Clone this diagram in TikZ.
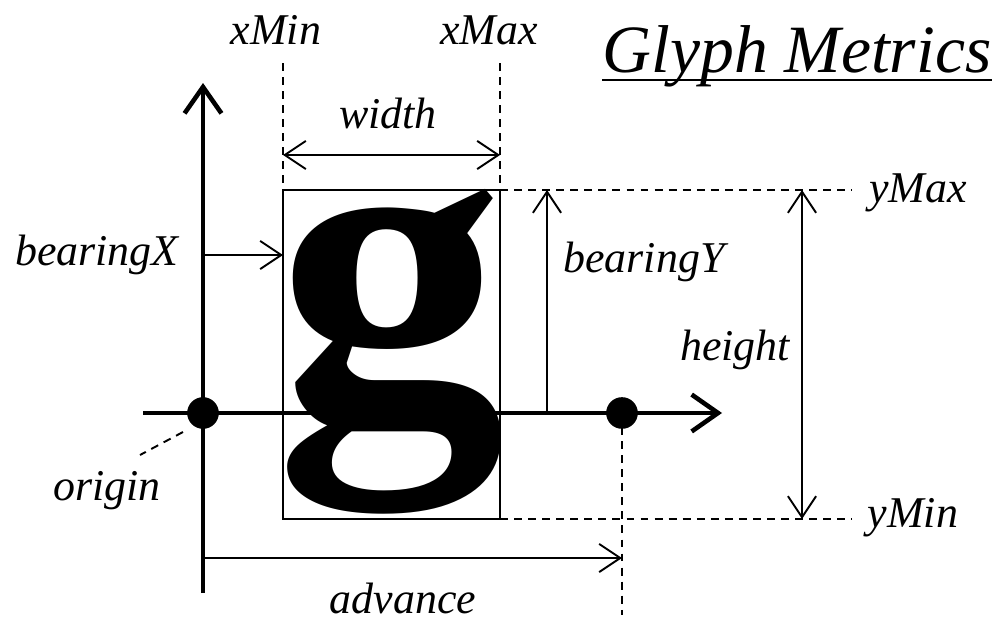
\documentclass[tikz,border=0pt]{standalone}
\usepackage{fontspec}
\setmainfont{Liberation Serif}
\usetikzlibrary{arrows.meta, positioning}
\tikzset{
  guide/.style={line width=1.1pt, dash pattern=on 4.5pt off 3.5pt},
  dimarrow/.style={line width=1.1pt, -{Straight Barb[length=12pt,width=16pt]}},
  dimboth/.style={line width=1.1pt, {Straight Barb[length=12pt,width=16pt]}-{Straight Barb[length=12pt,width=16pt]}},
  axis/.style={line width=2.6pt, -{Straight Barb[length=15pt,width=21pt]}},
  lbl/.style={anchor=base, inner sep=0pt, font=\itshape\fontsize{25pt}{25pt}\selectfont}
}

\begin{document}
\begin{tikzpicture}[x=0.02cm, y=-0.02cm]
\useasboundingbox (0,0) rectangle (995,622);
% key points
\coordinate (origin) at (203,413);
\coordinate (adv) at (622,413);
\coordinate (boxTL) at (283,190);
\coordinate (boxTR) at (500,190);
\coordinate (boxBL) at (283,519);
\coordinate (boxBR) at (500,519);
% glyph and its box
\node[anchor=base, inner sep=0pt, text height=126pt, text depth=60pt,
  font=\bfseries\fontsize{252pt}{252pt}\selectfont] (glyph) at (391,416) {\scalebox{1.04}[1]{g}};
\draw[line width=1.1pt] (boxTL) rectangle (boxBR);
% axes
\coordinate (xaxisL) at (143,413);
\coordinate (xaxisR) at (722,413);
\coordinate (yaxisB) at (203,593);
\coordinate (yaxisT) at (203,83);
\draw[axis] (xaxisL) -- (xaxisR);
\draw[axis] (yaxisB) -- (yaxisT);
\fill (origin) circle (9pt);
\fill (adv) circle (9pt);
% guide lines
\coordinate (xMinTop) at (283,63);
\coordinate (xMaxTop) at (500,63);
\coordinate (yMaxEnd) at (852,190);
\coordinate (yMinEnd) at (852,519);
\coordinate (advBot) at (622,615);
\coordinate (leaderA) at (183,432);
\coordinate (leaderB) at (140,455);
\draw[guide] (xMinTop) -- (boxTL);
\draw[guide] (xMaxTop) -- (boxTR);
\draw[guide] (boxTR) -- (yMaxEnd);
\draw[guide] (boxBR) -- (yMinEnd);
\draw[guide] (adv) -- (advBot);
\draw[guide] (leaderA) -- (leaderB);
% dimensions
\coordinate (wL) at (283,155);
\coordinate (wR) at (500,155);
\coordinate (bxL) at (203,255);
\coordinate (bxR) at (283,255);
\coordinate (byB) at (547,413);
\coordinate (byT) at (547,190);
\coordinate (hT) at (802,190);
\coordinate (hB) at (802,519);
\coordinate (advL) at (203,558);
\coordinate (advR) at (622,558);
\draw[dimboth] (wL) -- (wR);
\draw[dimarrow] (bxL) -- (bxR);
\draw[dimarrow] (byB) -- (byT);
\draw[dimboth] (hT) -- (hB);
\draw[dimarrow] (advL) -- (advR);
% labels
\node[lbl] (xMinLbl) at (276,45) {xMin};
\node[lbl] (xMaxLbl) at (489,45) {xMax};
\node[lbl] (widthLbl) at (388,128) {width};
\node[lbl] (bearingXLbl) at (97,265) {bearingX};
\node[lbl] (bearingYLbl) at (644,272) {bearingY};
\node[lbl] (heightLbl) at (735,360) {height};
\node[lbl] (yMaxLbl) at (918,202) {yMax};
\node[lbl] (yMinLbl) at (913,527) {yMin};
\node[lbl] (originLbl) at (107,500) {origin};
\node[lbl] (advanceLbl) at (403,613) {advance};
\node[lbl, font=\itshape\fontsize{38.5pt}{38.5pt}\selectfont] (title) at (797,72) {Glyph Metrics};
\coordinate (ulL) at (602,80);
\coordinate (ulR) at (992,80);
\draw[line width=1.2pt] (ulL) -- (ulR);
\end{tikzpicture}
\end{document}
